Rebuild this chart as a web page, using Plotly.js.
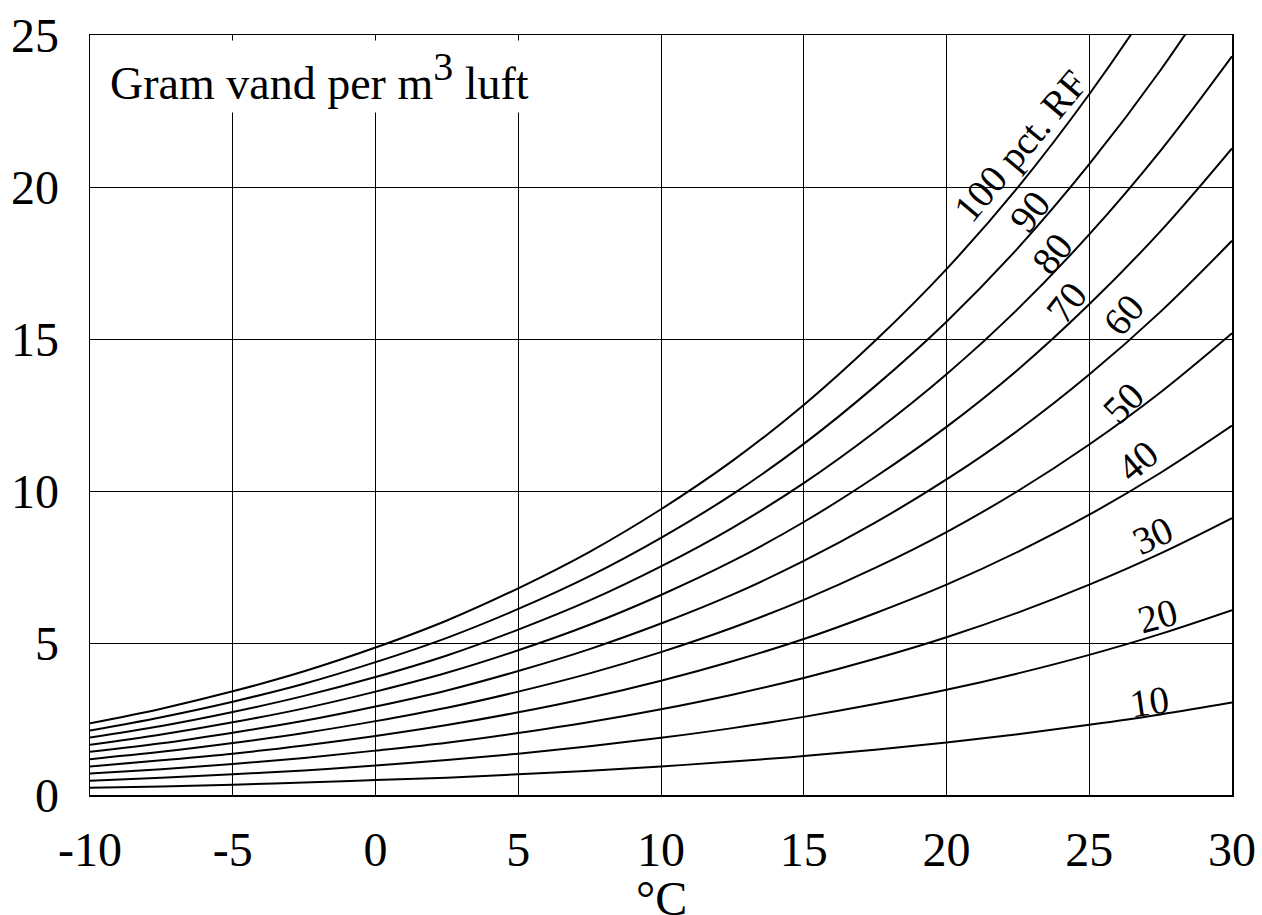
<!DOCTYPE html>
<html>
<head>
<meta charset="utf-8">
<script src="https://cdn.plot.ly/plotly-3.0.1.min.js"></script>
<style>html,body{margin:0;padding:0;background:#fff;}#chart{width:1262px;height:915px;}</style>
</head>
<body>
<div id="chart"></div>
<script>
// Temperature (°C)
const temps = [-10, -7.5, -5, -2.5, 0, 2.5, 5, 7.5, 10, 12.5, 15, 17.5, 20, 22.5, 25, 27.5, 30];
// Gram water per m3 air for each relative humidity
const rh100 = [2.36, 2.84, 3.41, 4.07, 4.85, 5.74, 6.80, 8.00, 9.40, 10.99, 12.83, 14.94, 17.30, 19.99, 23.05, 26.50, 30.38];
const rh90  = [2.12, 2.56, 3.07, 3.66, 4.37, 5.17, 6.12, 7.20, 8.46, 9.89, 11.55, 13.45, 15.57, 17.99, 20.75, 23.85, 27.34];
const rh80  = [1.89, 2.27, 2.73, 3.26, 3.88, 4.59, 5.44, 6.40, 7.52, 8.79, 10.26, 11.95, 13.84, 15.99, 18.44, 21.20, 24.30];
const rh70  = [1.65, 1.99, 2.39, 2.85, 3.40, 4.02, 4.76, 5.60, 6.58, 7.69, 8.98, 10.46, 12.11, 13.99, 16.14, 18.55, 21.27];
const rh60  = [1.42, 1.70, 2.05, 2.44, 2.91, 3.44, 4.08, 4.80, 5.64, 6.59, 7.70, 8.96, 10.38, 11.99, 13.83, 15.90, 18.23];
const rh50  = [1.18, 1.42, 1.71, 2.04, 2.43, 2.87, 3.40, 4.00, 4.70, 5.50, 6.42, 7.47, 8.65, 10.00, 11.53, 13.25, 15.19];
const rh40  = [0.94, 1.14, 1.36, 1.63, 1.94, 2.30, 2.72, 3.20, 3.76, 4.40, 5.13, 5.98, 6.92, 8.00, 9.22, 10.60, 12.15];
const rh30  = [0.71, 0.85, 1.02, 1.22, 1.46, 1.72, 2.04, 2.40, 2.82, 3.30, 3.85, 4.48, 5.19, 6.00, 6.92, 7.95, 9.11];
const rh20  = [0.47, 0.57, 0.68, 0.81, 0.97, 1.15, 1.36, 1.60, 1.88, 2.20, 2.57, 2.99, 3.46, 4.00, 4.61, 5.30, 6.08];
const rh10  = [0.24, 0.28, 0.34, 0.41, 0.49, 0.57, 0.68, 0.80, 0.94, 1.10, 1.28, 1.49, 1.73, 2.00, 2.31, 2.65, 3.04];

const seriesValues = [rh100, rh90, rh80, rh70, rh60, rh50, rh40, rh30, rh20, rh10];

// Curve labels and where they sit
const labelTexts = ["100 pct. RF", "90", "80", "70", "60", "50", "40", "30", "20", "10"];
const labelX     = [22.6, 22.9, 23.7, 24.2, 26.2, 26.2, 26.7, 27.2, 27.4, 27.1];
const labelY     = [21.35, 19.2, 17.8, 16.2, 15.8, 12.9, 11.0, 8.55, 5.9, 3.06];
const labelAngle = [-50, -52, -52, -52, -50, -45, -40, -25, -15, -8];

const xTicks = [-10, -5, 0, 5, 10, 15, 20, 25, 30];
const yTicks = [0, 5, 10, 15, 20, 25];
const xTitle = "°C";

const FONT = "Liberation Serif, Times New Roman, serif";

const traces = seriesValues.map((vals, i) => ({
  type: "scatter",
  mode: "lines",
  x: temps,
  y: vals,
  line: {color: "#000", width: 2, shape: "spline", smoothing: 1},
  hoverinfo: "skip",
  showlegend: false
}));

const annotations = labelTexts.map((t, i) => ({
  x: labelX[i], y: labelY[i], xref: "x", yref: "y",
  text: t, showarrow: false, textangle: labelAngle[i],
  font: {family: FONT, size: 39, color: "#000"}
}));

annotations.push({
  x: -9.45, y: 23.62, xref: "x", yref: "y",
  xanchor: "left", yanchor: "middle",
  text: "Gram vand per m<sup><span style=\"font-size:40px\">3</span></sup> luft",
  showarrow: false, bgcolor: "#fff", borderpad: 3,
  font: {family: FONT, size: 46, color: "#000"}
});

// x-axis title, placed below the tick labels (may run off the bottom edge as in the original)
annotations.push({
  x: 0.5, y: -0.099, xref: "paper", yref: "paper",
  xanchor: "center", yanchor: "top",
  text: xTitle, showarrow: false,
  font: {family: FONT, size: 48, color: "#000"}
});

const axisCommon = {
  showgrid: true, gridcolor: "#000", gridwidth: 1,
  showline: true, mirror: true, linecolor: "#000", linewidth: 1.5,
  zeroline: false, ticks: "",
  tickfont: {family: FONT, size: 48, color: "#000"},
  fixedrange: true
};

const layout = {
  width: 1262, height: 915,
  margin: {l: 90, r: 30, t: 35, b: 120},
  paper_bgcolor: "#fff", plot_bgcolor: "#fff",
  font: {family: FONT, color: "#000"},
  showlegend: false,
  xaxis: Object.assign({}, axisCommon, {
    range: [-10, 30], tickvals: xTicks, ticktext: xTicks.map(String),
    ticklabelstandoff: 12
  }),
  yaxis: Object.assign({}, axisCommon, {
    range: [0, 25], tickvals: yTicks, ticktext: yTicks.map(String),
    ticklabelstandoff: 20
  }),
  annotations: annotations
};

Plotly.newPlot("chart", traces, layout, {staticPlot: true, displayModeBar: false});
</script>
</body>
</html>
